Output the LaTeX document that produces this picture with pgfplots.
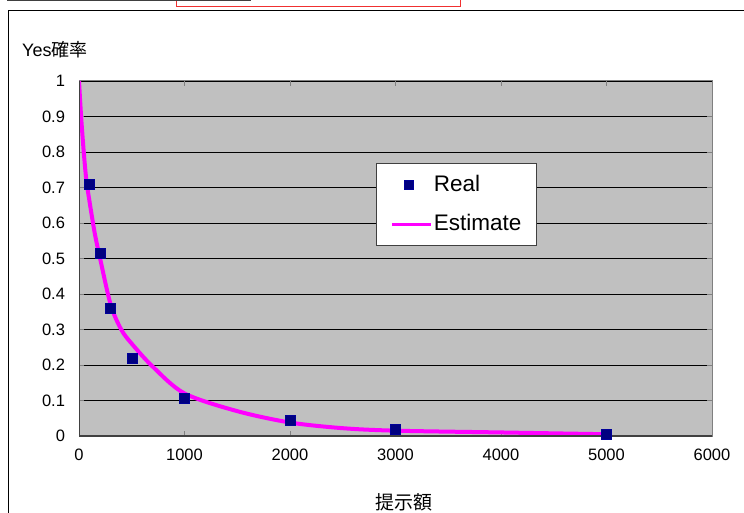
\documentclass[border=0pt]{standalone}
\usepackage{fontspec}
\setmainfont{Liberation Sans}
\newfontfamily\cjk{Noto Sans CJK JP}
\usepackage{pgfplots}
\pgfplotsset{compat=1.18}

\definecolor{plotgray}{RGB}{192,192,192}
\definecolor{navymark}{RGB}{0,0,128}
\definecolor{estmag}{RGB}{255,0,255}
\definecolor{axdark}{RGB}{64,64,64}
\definecolor{axlight}{RGB}{128,128,128}
\definecolor{boxred}{RGB}{240,48,48}

\pgfplotsset{
    estleg/.style={legend image code/.code={\draw[##1, line width=3pt] (0pt,0pt) -- (39pt,0pt);}},
    realleg/.style={legend image code/.code={\draw[##1, mark size=4.5pt] plot coordinates {(17pt,0pt)};}},
}

\begin{document}
\begin{tikzpicture}
\useasboundingbox (0pt,0pt) rectangle (744pt,-513pt);
\fill[white] (0pt,0pt) rectangle (744pt,-513pt);
% bits of the window around the chart
\draw[boxred, line width=1pt] (176.5pt,2pt) rectangle (460pt,-6.7pt);
\draw[axdark, line width=1.6pt] (7pt,-0.7pt) -- (251pt,-0.7pt);
\draw[black, line width=1.2pt] (8.5pt,-520pt) -- (8.5pt,-10.5pt) -- (750pt,-10.5pt);

\begin{axis}[
    at={(79pt,-81pt)}, anchor=north west,
    scale only axis, width=633pt, height=355pt,
    xmin=0, xmax=6000, ymin=0, ymax=1,
    xtick={0,1000,2000,3000,4000,5000,6000},
    ytick={0,0.1,0.2,0.3,0.4,0.5,0.6,0.7,0.8,0.9,1},
    yticklabels={0,0.1,0.2,0.3,0.4,0.5,0.6,0.7,0.8,0.9,1},
    scaled x ticks=false,
    /pgf/number format/assume math mode=true,
    /pgf/number format/1000 sep={},
    ticklabel style={font=\fontsize{16.5}{16.5}\selectfont},
    xticklabel style={yshift=-9pt},
    yticklabel style={xshift=-10.5pt},
    tick align=inside,
    major tick length=5pt,
    tick style={axlight, line width=1pt},
    axis background/.style={fill=plotgray},
    axis line style={axlight, line width=1pt},
    ymajorgrids,
    major grid style={black, line width=0.9pt},
    xlabel={{\cjk 提示額}},
    xlabel style={font=\fontsize{19}{19}\selectfont, at={(rel axis cs:0.5,0)}, anchor=center, xshift=8.5pt, yshift=-66pt, inner sep=0pt},
    ylabel={Yes{\cjk 確率}},
    ylabel style={rotate=-90, font=\fontsize{18}{18}\selectfont, at={(rel axis cs:0,1)}, anchor=west, xshift=-57pt, yshift=31pt, inner sep=0pt},
    reverse legend,
    legend cell align=left,
    legend style={at={(rel axis cs:0.469,0.769)}, anchor=north west,
        draw=axdark, line width=1pt, fill=white,
        inner xsep=14pt, inner ysep=10pt, row sep=16pt,
        /tikz/every even column/.append style={column sep=0pt},
        font=\fontsize{22.5}{22.5}\selectfont,
        nodes={inner sep=1.5pt, text height=16pt, text depth=4pt}},
]
\addplot[estmag, line width=4pt, smooth, estleg]
coordinates {(0,1) (20,0.9) (45,0.8) (70,0.72) (100,0.66) (150,0.57) (200,0.50)
    (300,0.37) (400,0.30) (500,0.26) (700,0.195) (1000,0.12) (1500,0.07)
    (2000,0.038) (2500,0.022) (3000,0.015) (4000,0.010) (5000,0.005)};
\addlegendentry{Estimate}
\addplot[only marks, mark=square*, mark size=5pt, mark options={fill=navymark, draw=navymark!80!blue, line width=0.5pt}, realleg]
coordinates {(100,0.71) (200,0.515) (300,0.36) (500,0.22) (1000,0.106)
    (2000,0.044) (3000,0.02) (5000,0.006)};
\addlegendentry{Real}
\draw[axdark, line width=1.8pt] (rel axis cs:0,1) -- (rel axis cs:0,0) -- (rel axis cs:1,0);
\end{axis}
\end{tikzpicture}
\end{document}
